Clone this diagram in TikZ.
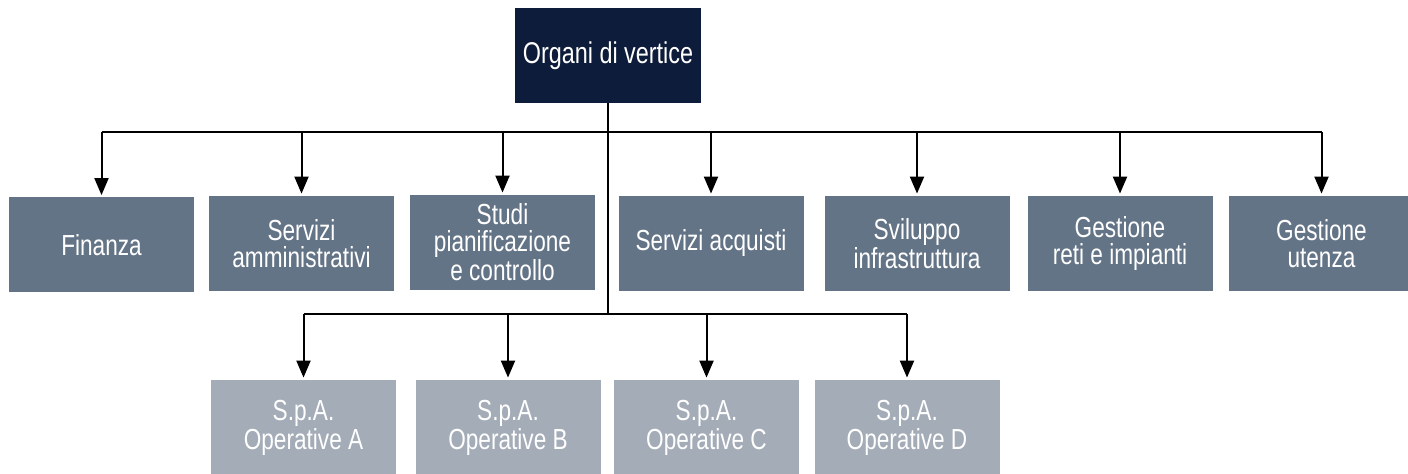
\documentclass[tikz,border=0pt]{standalone}
\usepackage{fontspec}
\setmainfont{Liberation Sans}[FakeStretch=0.78]
\usetikzlibrary{arrows.meta}
\definecolor{topblue}{RGB}{13,28,58}
\definecolor{slate}{RGB}{100,116,135}
\definecolor{lightslate}{RGB}{163,172,183}

\begin{document}
\begin{tikzpicture}[x=0.5pt,y=-0.5pt,
  box/.style={fill=slate,text=white,minimum width=92.5pt,minimum height=47.5pt,
    inner sep=0pt,align=center,font=\fontsize{14.5}{13.5}\selectfont},
  spabox/.style={box,fill=lightslate,minimum height=48pt},
  arr/.style={-{Triangle[width=7pt,length=8.5pt]},line width=1pt,shorten >=1pt}]
\useasboundingbox (0,0) rectangle (1408,474);
\node[box,fill=topblue,minimum width=93pt,font=\fontsize{15}{16}\selectfont] (vertice) at (608,55.5) {Organi di vertice};
\node[box] (finanza) at (101.5,245) {Finanza};
\node[box] (servamm) at (301.5,243.5) {Servizi\\amministrativi};
\node[box] (studi) at (502.5,242.5) {Studi\\pianificazione\\e controllo};
\node[box] (acquisti) at (711,243.5) {Servizi acquisti};
\node[box] (sviluppo) at (917,243.5) {Sviluppo\\infrastruttura};
\node[box] (reti) at (1120,243.5) {Gestione\\reti e impianti};
\node[box] (utenza) at (1321.5,243.5) {Gestione\\utenza};
\node[spabox] (spaA) at (303.5,428) {S.p.A.\\Operative A};
\node[spabox] (spaB) at (508,428) {S.p.A.\\Operative B};
\node[spabox] (spaC) at (706.5,428) {S.p.A.\\Operative C};
\node[spabox] (spaD) at (907,428) {S.p.A.\\Operative D};
\coordinate (bus) at (608,132);
\coordinate (bus2) at (608,314);
\draw[line width=1pt] (vertice) -- (bus2);
\draw[line width=1pt] (finanza.north |- bus) -- (utenza.north |- bus);
\draw[line width=1pt] (spaA.north |- bus2) -- (spaD.north |- bus2);
\foreach \n in {finanza,servamm,studi,acquisti,sviluppo,reti,utenza}
  \draw[arr] (\n.north |- bus) -- (\n);
\foreach \n in {spaA,spaB,spaC,spaD}
  \draw[arr] (\n.north |- bus2) -- (\n);
\end{tikzpicture}
\end{document}
